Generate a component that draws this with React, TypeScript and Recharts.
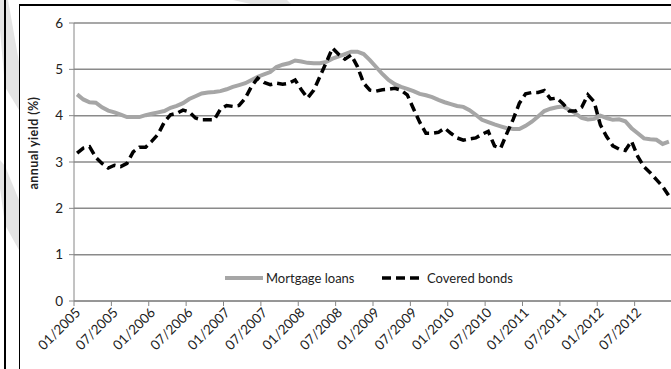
import { LineChart, Line, XAxis, YAxis, CartesianGrid } from 'recharts';

// monthly, 01/2005 .. 12/2012
const mortgageLoans = [
    4.46, 4.35, 4.29, 4.28, 4.18, 4.11, 4.07, 4.02, 3.97, 3.97, 3.97, 4.01,
    4.04, 4.07, 4.10, 4.17, 4.21, 4.27, 4.36, 4.42, 4.48, 4.50, 4.51, 4.53,
    4.57, 4.62, 4.66, 4.70, 4.77, 4.84, 4.89, 4.94, 5.05, 5.10, 5.13, 5.19,
    5.17, 5.14, 5.13, 5.13, 5.16, 5.23, 5.28, 5.33, 5.38, 5.38, 5.33, 5.20,
    5.05, 4.90, 4.77, 4.68, 4.62, 4.58, 4.53, 4.47, 4.44, 4.40, 4.34, 4.29,
    4.25, 4.21, 4.19, 4.12, 4.02, 3.91, 3.86, 3.81, 3.77, 3.73, 3.71, 3.71,
    3.78, 3.87, 3.98, 4.10, 4.15, 4.18, 4.20, 4.13, 4.05, 3.95, 3.92, 3.93,
    4.00, 3.95, 3.91, 3.92, 3.88, 3.73, 3.62, 3.51, 3.49, 3.48, 3.39, 3.44
];

const coveredBonds = [
    3.19, 3.30, 3.33, 3.10, 2.97, 2.87, 2.93, 2.90, 2.97, 3.22, 3.32, 3.32,
    3.45, 3.60, 3.86, 4.02, 4.05, 4.12, 4.08, 3.95, 3.91, 3.91, 3.91, 4.14,
    4.22, 4.20, 4.22, 4.38, 4.63, 4.81, 4.72, 4.67, 4.70, 4.68, 4.70, 4.77,
    4.56, 4.38, 4.55, 4.85, 5.15, 5.46, 5.32, 5.22, 5.31, 5.06, 4.70, 4.55,
    4.53, 4.56, 4.57, 4.59, 4.55, 4.45, 4.15, 3.86, 3.62, 3.62, 3.64, 3.73,
    3.62, 3.52, 3.47, 3.50, 3.52, 3.60, 3.66, 3.35, 3.30, 3.62, 3.92, 4.27,
    4.47, 4.50, 4.50, 4.54, 4.36, 4.38, 4.26, 4.10, 4.10, 4.18, 4.45, 4.30,
    3.80, 3.55, 3.35, 3.28, 3.25, 3.45, 3.12, 2.90, 2.77, 2.62, 2.47, 2.27
];

const tickLabels = [
    '01/2005', '07/2005', '01/2006', '07/2006', '01/2007', '07/2007', '01/2008', '07/2008',
    '01/2009', '07/2009', '01/2010', '07/2010', '01/2011', '07/2011', '01/2012', '07/2012'
];

const yTicks = [0, 1, 2, 3, 4, 5, 6];

const FONT = 'Lato, "Open Sans", sans-serif';
const AXIS = '#868686';

const data = mortgageLoans.map((v, i) => ({
    t: i + 0.5,
    mortgage: v,
    covered: coveredBonds[i]
}));

const xTicks = tickLabels.map((_, i) => i * 6);

function DateTick(props: any) {
    const { x, y, payload } = props;
    const label = tickLabels[Math.round(payload.value / 6)];
    return (
        <g transform={`translate(${x + 4},${y + 2})`}>
            <text
                transform="rotate(-45)"
                textAnchor="end"
                dy="0.35em"
                fontSize={13.5}
                fontFamily={FONT}
                fill="#222"
            >
                {label}
            </text>
        </g>
    );
}

// legend drawn as an overlay so it does not shrink the plot
function ChartLegend() {
    return (
        <div
            style={{
                position: 'absolute',
                left: 224,
                top: 270,
                display: 'flex',
                alignItems: 'center',
                fontFamily: FONT,
                fontSize: 13,
                color: '#222'
            }}
        >
            <svg width={40} height={10}>
                <line x1={1} y1={5} x2={39} y2={5} stroke="#a6a6a6" strokeWidth={4} />
            </svg>
            <span style={{ marginLeft: 2, display: 'inline-block', width: 115 }}>Mortgage loans</span>
            <svg width={42} height={10}>
                <line x1={1} y1={5} x2={40} y2={5} stroke="#000" strokeWidth={3.5} strokeDasharray="9 5" />
            </svg>
            <span style={{ marginLeft: 4 }}>Covered bonds</span>
        </div>
    );
}

export default function App() {
    return (
        <div style={{ position: 'absolute', left: 0, top: 0, width: 671, height: 369, overflow: 'hidden', background: '#fff' }}>
            <svg width={671} height={369} style={{ position: 'absolute', left: 0, top: 0 }}>
                <polygon points="0,0 8,0 19,62 19,110 5,87 0,30" fill="#e4e4e4" />
                <polygon points="0,160 5,166 19,200 19,250 5,225 0,188" fill="#e4e4e4" />
                <polygon points="233,0 287,0 292,5 255,5" fill="#e4e4e4" />
                <rect x={4} y={0} width={2} height={369} fill="#000" />
            </svg>
            <div
                style={{
                    position: 'absolute',
                    left: 19,
                    top: 4,
                    width: 700,
                    height: 400,
                    background: '#fff',
                    borderLeft: '1.5px solid #000',
                    borderTop: '2px solid #000'
                }}
            />
            <svg width={60} height={369} style={{ position: 'absolute', left: 0, top: 0 }}>
                <text
                    transform="translate(38,143) rotate(-90)"
                    textAnchor="middle"
                    fontFamily={FONT}
                    fontSize={12.5}
                    fontWeight="bold"
                    letterSpacing={0.4}
                    fill="#222"
                >
                    annual yield (%)
                </text>
            </svg>
            <div style={{ position: 'absolute', left: 0, top: 0 }}>
                <LineChart width={680} height={369} data={data} margin={{ top: 23, right: 8, left: 0, bottom: 0 }}>
                    <CartesianGrid vertical={false} stroke="#8a8a8a" strokeWidth={1.5} />
                    <XAxis
                        type="number"
                        dataKey="t"
                        domain={[0, 96]}
                        ticks={xTicks}
                        interval={0}
                        height={68}
                        stroke={AXIS}
                        tickSize={5}
                        tick={<DateTick />}
                    />
                    <YAxis
                        domain={[0, 6]}
                        ticks={yTicks}
                        width={74}
                        stroke={AXIS}
                        tickSize={5}
                        tickMargin={6}
                        tick={{ fontSize: 13.5, fontFamily: FONT, fill: '#222' }}
                    />
                    <Line
                        type="linear"
                        dataKey="mortgage"
                        stroke="#a6a6a6"
                        strokeWidth={4}
                        dot={false}
                        isAnimationActive={false}
                    />
                    <Line
                        type="linear"
                        dataKey="covered"
                        stroke="#000"
                        strokeWidth={3.5}
                        strokeDasharray="9 5"
                        dot={false}
                        isAnimationActive={false}
                    />
                </LineChart>
            </div>
            <ChartLegend />
        </div>
    );
}
